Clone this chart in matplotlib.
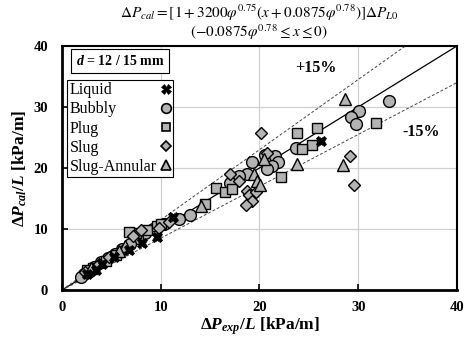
import matplotlib
matplotlib.use('Agg')
import matplotlib.pyplot as plt

plt.rcParams['font.family'] = 'Liberation Serif'
plt.rcParams['mathtext.fontset'] = 'custom'
plt.rcParams['mathtext.rm'] = 'Liberation Serif:bold'
plt.rcParams['mathtext.it'] = 'Liberation Serif:italic:bold'
plt.rcParams['mathtext.bf'] = 'Liberation Serif:bold'

# data (kPa/m)
liquid_x = [26.2, 11.2, 9.6, 8.1, 6.8, 5.3, 4.1, 3.5, 2.5]
liquid_y = [24.5, 11.9, 8.7, 7.7, 6.5, 5.5, 4.3, 3.3, 2.6]

bubbly_x = [33.1, 30.1, 29.3, 29.8, 23.7, 20.6, 21.1, 21.6, 21.9, 21.3, 20.8, 19.2,
            18.7, 17.9, 17.0, 13.0, 11.9, 10.3, 9.2, 8.4, 7.6, 6.9, 6.1, 5.4, 4.7,
            4.0, 3.3, 2.8, 2.2, 1.9]
bubbly_y = [30.9, 29.4, 28.4, 27.2, 23.2, 22.2, 21.5, 22.0, 21.0, 20.4, 19.8, 21.0,
            19.1, 18.7, 17.5, 12.3, 11.6, 10.9, 10.0, 9.3, 8.5, 7.5, 6.8, 6.0, 5.2,
            4.6, 3.8, 3.1, 2.6, 2.2]

plug_x = [31.8, 25.8, 23.8, 25.3, 24.3, 22.2, 15.6, 16.5, 17.2, 14.5, 7.5, 6.8, 8.6,
          9.6, 5.5, 4.5, 3.2, 2.5, 10.0]
plug_y = [27.4, 26.5, 25.8, 23.8, 23.1, 18.6, 16.7, 16.1, 16.6, 14.1, 9.4, 9.6, 9.8,
          10.5, 5.8, 4.8, 3.6, 3.3, 10.8]

slug_x = [20.2, 29.2, 29.6, 18.7, 18.9, 19.2, 18.6, 19.6, 17.0, 20.8, 17.9, 8.0, 7.2,
          9.8, 10.8, 4.8, 3.8, 2.3, 6.3]
slug_y = [25.7, 21.9, 17.2, 16.2, 15.5, 14.6, 14.0, 16.1, 19.1, 22.4, 17.8, 9.9, 8.8,
          10.2, 11.1, 5.5, 4.3, 2.9, 6.8]

annular_x = [28.7, 28.5, 23.8, 19.4, 19.8, 20.1, 14.1, 6.4, 5.8, 20.5, 3.0]
annular_y = [31.3, 20.5, 20.7, 19.0, 17.9, 17.2, 13.7, 7.2, 6.4, 21.4, 3.6]

fill = '#b3b3b3'

fig = plt.figure(figsize=(4.65, 3.45), dpi=100)
ax = fig.add_axes([0.133, 0.159, 0.850, 0.708])

ax.plot([0, 40], [0, 40], color='black', lw=0.9, zorder=2)
ax.plot([0, 40], [0, 46], color='#444444', lw=0.7, ls=(0, (3, 2)), zorder=2)
ax.plot([0, 40], [0, 34], color='#444444', lw=0.7, ls=(0, (3, 2)), zorder=2)

ax.plot(bubbly_x, bubbly_y, 'o', ms=8.5, mfc=fill, mec='black', mew=1.0, zorder=3)
ax.plot(plug_x, plug_y, 's', ms=7.5, mfc=fill, mec='black', mew=1.0, zorder=3)
ax.plot(slug_x, slug_y, 'D', ms=6.5, mfc=fill, mec='black', mew=1.0, zorder=3)
ax.plot(annular_x, annular_y, '^', ms=8.5, mfc=fill, mec='black', mew=1.0, zorder=3)
ax.plot(liquid_x, liquid_y, 'X', ms=7.5, mfc='black', mec='black', mew=0.5, zorder=4)

# legend proxies (markers at the right of the text)
h = [
    ax.plot([], [], 'X', ms=7, mfc='black', mec='black', mew=0.5)[0],
    ax.plot([], [], 'o', ms=7, mfc=fill, mec='black', mew=1.2)[0],
    ax.plot([], [], 's', ms=6, mfc=fill, mec='black', mew=1.2)[0],
    ax.plot([], [], 'D', ms=5, mfc=fill, mec='black', mew=1.2)[0],
    ax.plot([], [], '^', ms=7, mfc=fill, mec='black', mew=1.2)[0],
]
leg = ax.legend(h, ['Liquid', 'Bubbly', 'Plug', 'Slug', 'Slug-Annular'],
                loc='upper left', bbox_to_anchor=(0.013, 0.861), borderaxespad=0,
                markerfirst=False, fancybox=False, edgecolor='black', framealpha=1,
                fontsize=11.5, handlelength=0.6, handletextpad=0.2, labelspacing=0.2,
                borderpad=0.15)
leg.get_frame().set_linewidth(0.8)
# left-align the labels, keep the markers on the right (width in pixels)
for col in leg._legend_handle_box.get_children():
    for item in col.get_children():
        item.mode = 'expand'
        item.width = 101

ax.text(0.147, 0.938, r'$\mathit{d}$ = 12 / 15 mm', transform=ax.transAxes,
        ha='center', va='center', fontsize=10, fontweight='bold',
        bbox=dict(boxstyle='square,pad=0.35', fc='white', ec='black', lw=0.8))

ax.text(25.7, 36.4, '+15%', ha='center', va='center', fontsize=11.5, fontweight='bold')
ax.text(36.4, 25.9, '-15%', ha='center', va='center', fontsize=11.5, fontweight='bold')

ax.set_xlim(0, 40)
ax.set_ylim(0, 40)
ax.set_xticks([0, 10, 20, 30, 40])
ax.set_yticks([0, 10, 20, 30, 40])
ax.tick_params(direction='in', length=4, width=1.2, labelsize=10.5)
ax.tick_params(axis='x', pad=8)
ax.tick_params(axis='y', pad=10)
for lbl in ax.get_xticklabels() + ax.get_yticklabels():
    lbl.set_fontweight('bold')
ax.grid(True, color='#d0d0d0', lw=0.9)
ax.set_axisbelow(True)
for s in ['left', 'bottom']:
    ax.spines[s].set_linewidth(2.0)
for s in ['top', 'right']:
    ax.spines[s].set_linewidth(1.5)

ax.set_xlabel(r'$\Delta\mathit{P}_{\mathit{exp}}$/$\mathit{L}$ [kPa/m]', fontsize=12.5,
              fontweight='bold', labelpad=1)
ax.set_ylabel(r'$\Delta\mathit{P}_{\mathit{cal}}$/$\mathit{L}$ [kPa/m]', fontsize=12.5,
              fontweight='bold', labelpad=3)

title = (r'$\Delta P_{cal} = [1 + 3200\varphi^{0.75}(x + 0.0875\varphi^{0.78})]\Delta P_{L0}$'
         '\n'
         r'$(-0.0875\varphi^{0.78} \leq x \leq 0)$')
fig.text(0.557, 0.934, title, ha='center', va='center', multialignment='center',
         linespacing=0.95, fontsize=11, math_fontfamily='stix')

fig.savefig('out.png', dpi=100)
